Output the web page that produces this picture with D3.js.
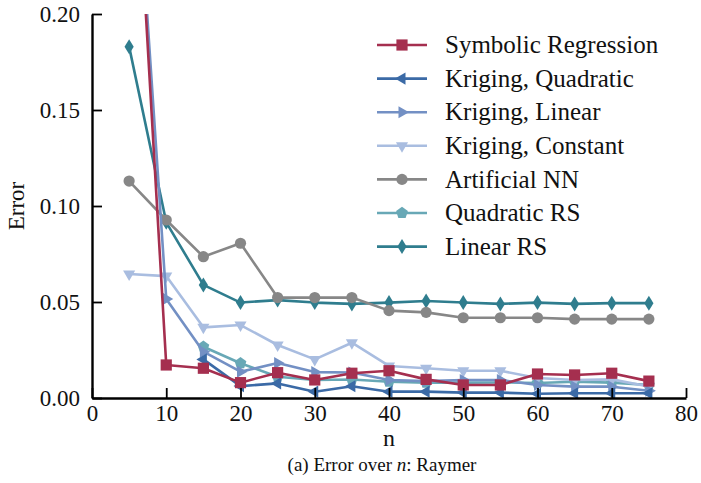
<!DOCTYPE html>
<html>
<head>
<meta charset="utf-8">
<script src="https://cdn.jsdelivr.net/npm/d3@7"></script>
<style>
  body { margin: 0; background: #fff; }
  svg { display: block; }
  text { font-family: "Liberation Serif", "Times New Roman", serif; fill: #111; }
</style>
</head>
<body>
<svg id="chart" width="701" height="483"></svg>
<script>
// Sample sizes n
const nValues = [5, 10, 15, 20, 25, 30, 35, 40, 45, 50, 55, 60, 65, 70, 75];

// Error per method (null = no result for that n)
const symbolicRegression = [0.35, 0.0172, 0.0155, 0.0080, 0.0132, 0.0094, 0.0129, 0.0142, 0.0097, 0.0068, 0.0068, 0.0125, 0.0120, 0.0129, 0.0088];
const krigingQuadratic   = [null, null, 0.0201, 0.0062, 0.0076, 0.0033, 0.0061, 0.0033, 0.0033, 0.0028, 0.0028, 0.0022, 0.0025, 0.0025, 0.0025];
const krigingLinear      = [0.34, 0.0516, 0.0241, 0.0137, 0.0182, 0.0135, 0.0133, 0.0094, 0.0088, 0.0094, 0.0094, 0.0068, 0.0059, 0.0059, 0.0038];
const krigingConstant    = [0.0646, 0.0635, 0.0368, 0.0380, 0.0276, 0.0201, 0.0288, 0.0167, 0.0155, 0.0142, 0.0142, 0.0104, 0.0094, 0.0097, 0.0060];
const artificialNN       = [0.1130, 0.0927, 0.0736, 0.0806, 0.0523, 0.0523, 0.0523, 0.0455, 0.0446, 0.0418, 0.0418, 0.0418, 0.0411, 0.0411, 0.0411];
const quadraticRS        = [null, null, 0.0267, 0.0181, 0.0111, 0.0094, 0.0096, 0.0085, 0.0080, 0.0080, 0.0081, 0.0078, 0.0085, 0.0080, 0.0068];
const linearRS           = [0.1830, 0.0915, 0.0589, 0.0497, 0.0510, 0.0497, 0.0490, 0.0497, 0.0505, 0.0497, 0.0490, 0.0497, 0.0490, 0.0494, 0.0494];

// Axis ticks
const xTicks = [0, 10, 20, 30, 40, 50, 60, 70, 80];
const yTicks = [0.00, 0.05, 0.10, 0.15, 0.20];

const seriesNames   = ["Symbolic Regression", "Kriging, Quadratic", "Kriging, Linear", "Kriging, Constant", "Artificial NN", "Quadratic RS", "Linear RS"];
const seriesValues  = [symbolicRegression, krigingQuadratic, krigingLinear, krigingConstant, artificialNN, quadraticRS, linearRS];
const seriesColors  = ["#a52f4f", "#3b6aa6", "#7390c4", "#a9bde0", "#878787", "#68a8b6", "#2f7d8e"];
const seriesMarkers = ["square", "triLeft", "triRight", "triDown", "circle", "pentagon", "thinDiamond"];

const FONT = "\"Liberation Serif\", \"Times New Roman\", serif";
const svg = d3.select("#chart");
const margin = { left: 92, right: 15, top: 14, bottom: 85 };
const W = 701, H = 483;

const x = d3.scaleLinear().domain([0, 80]).range([margin.left, W - margin.right]);
const y = d3.scaleLinear().domain([0, 0.20]).range([H - margin.bottom, margin.top]);

// Marker path builders, centred on the origin
function markerPath(kind) {
  const p = d3.path();
  const poly = (pts) => { p.moveTo(pts[0][0], pts[0][1]); pts.slice(1).forEach(q => p.lineTo(q[0], q[1])); p.closePath(); };
  const tri = (r, angle) => {
    const pts = [0, 1, 2].map(i => {
      const a = angle + i * 2 * Math.PI / 3;
      return [r * Math.cos(a), -r * Math.sin(a)];
    });
    poly(pts);
  };
  switch (kind) {
    case "square": { const s = 5.6; poly([[-s, -s], [s, -s], [s, s], [-s, s]]); break; }
    case "triLeft": tri(7, Math.PI); break;
    case "triRight": tri(7, 0); break;
    case "triDown": tri(7, -Math.PI / 2); break;
    case "circle": p.arc(0, 0, 5.6, 0, 2 * Math.PI); break;
    case "pentagon": {
      const r = 6.2;
      poly(d3.range(5).map(i => { const a = Math.PI / 2 + i * 2 * Math.PI / 5; return [r * Math.cos(a), -r * Math.sin(a)]; }));
      break;
    }
    case "thinDiamond": poly([[0, -7.5], [4.6, 0], [0, 7.5], [-4.6, 0]]); break;
  }
  return p.toString();
}

// Plot area clipping
svg.append("defs").append("clipPath").attr("id", "plot-clip")
  .append("rect")
  .attr("x", x(0)).attr("y", y(0.20))
  .attr("width", x(80) - x(0)).attr("height", y(0) - y(0.20));

const plot = svg.append("g").attr("clip-path", "url(#plot-clip)");

const line = d3.line()
  .defined(d => d.v != null)
  .x(d => x(d.n))
  .y(d => y(d.v));

// Draw from last to first so the first series sits on top
for (let k = seriesNames.length - 1; k >= 0; k--) {
  const pts = nValues.map((n, i) => ({ n, v: seriesValues[k][i] }));
  const g = plot.append("g");
  g.append("path")
    .datum(pts)
    .attr("d", line)
    .attr("fill", "none")
    .attr("stroke", seriesColors[k])
    .attr("stroke-width", 2.6)
    .attr("stroke-linejoin", "round");
  g.selectAll("path.marker")
    .data(pts.filter(d => d.v != null))
    .join("path")
    .attr("class", "marker")
    .attr("d", markerPath(seriesMarkers[k]))
    .attr("transform", d => `translate(${x(d.n)},${y(d.v)})`)
    .attr("fill", seriesColors[k]);
}

// Axes: ticks point inward, only left and bottom spines
const xAxis = d3.axisBottom(x).tickValues(xTicks).tickFormat(d3.format("d"))
  .tickSizeInner(-10).tickSizeOuter(0).tickPadding(7);
const yAxis = d3.axisLeft(y).tickValues(yTicks).tickFormat(d3.format(".2f"))
  .tickSizeInner(-10).tickSizeOuter(0).tickPadding(12);

const gx = svg.append("g").attr("transform", `translate(0,${y(0)})`).call(xAxis);
const gy = svg.append("g").attr("transform", `translate(${x(0)},0)`).call(yAxis);

[gx, gy].forEach(g => {
  g.attr("font-family", FONT);
  g.select(".domain").attr("stroke", "#000").attr("stroke-width", 2.4);
  g.selectAll(".tick line").attr("stroke", "#000").attr("stroke-width", 1.8);
  g.selectAll(".tick text").attr("font-size", 23).attr("fill", "#111");
});

// Axis titles and caption
svg.append("text")
  .attr("transform", `translate(24,${(y(0) + y(0.2)) / 2}) rotate(-90)`)
  .attr("text-anchor", "middle")
  .attr("font-size", 23)
  .text("Error");

svg.append("text")
  .attr("x", (x(0) + x(80)) / 2).attr("y", 446)
  .attr("text-anchor", "middle")
  .attr("font-size", 24)
  .text("n");

const caption = svg.append("text")
  .attr("x", 382).attr("y", 471)
  .attr("text-anchor", "middle")
  .attr("font-size", 19);
caption.append("tspan").text("(a) Error over ");
caption.append("tspan").attr("font-style", "italic").text("n");
caption.append("tspan").text(": Raymer");

// Legend
const legend = svg.append("g");
const legX0 = 377, legX1 = 427, legTextX = 445, legY0 = 45, legStep = 33.6;
seriesNames.forEach((name, k) => {
  const yy = legY0 + k * legStep;
  legend.append("line")
    .attr("x1", legX0).attr("x2", legX1).attr("y1", yy).attr("y2", yy)
    .attr("stroke", seriesColors[k]).attr("stroke-width", 2.6);
  legend.append("path")
    .attr("d", markerPath(seriesMarkers[k]))
    .attr("transform", `translate(${(legX0 + legX1) / 2},${yy})`)
    .attr("fill", seriesColors[k]);
  legend.append("text")
    .attr("x", legTextX).attr("y", yy)
    .attr("dy", "0.33em")
    .attr("font-size", 25)
    .text(name);
});
</script>
</body>
</html>
